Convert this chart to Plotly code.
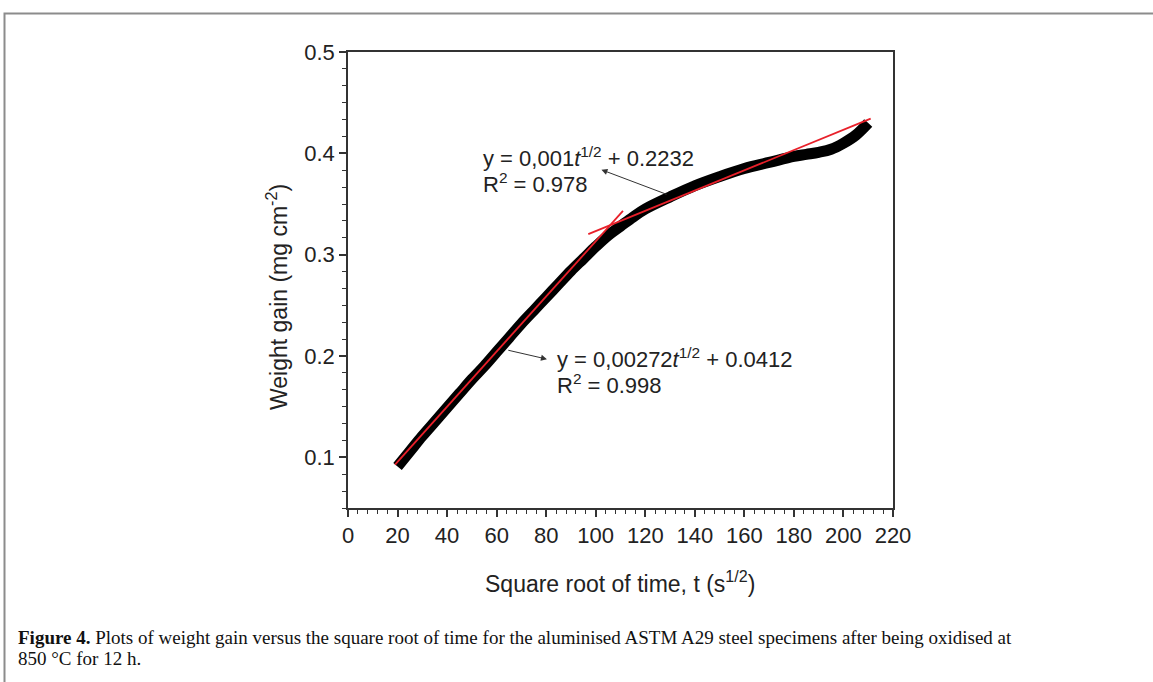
import plotly.graph_objects as go
import numpy as np

# ---- data ----
t_data = [20, 25, 30, 35, 40, 45, 50, 55, 60, 65, 70, 75, 80, 85, 90, 95, 100, 105,
          110, 115, 120, 130, 140, 150, 160, 170, 180, 185, 190, 195, 200, 205, 210]
w_data = [0.091, 0.106, 0.121, 0.135, 0.149, 0.163, 0.177, 0.190, 0.204, 0.218,
          0.232, 0.245, 0.258, 0.271, 0.284, 0.296, 0.308, 0.319, 0.328, 0.337,
          0.345, 0.357, 0.368, 0.377, 0.385, 0.391, 0.397, 0.399, 0.401, 0.404,
          0.410, 0.418, 0.430]

fit1_slope, fit1_icpt, fit1_range = 0.00272, 0.0412, [19, 111]
fit2_slope, fit2_icpt, fit2_range = 0.001, 0.2232, [97, 211]

x_ticks = [0, 20, 40, 60, 80, 100, 120, 140, 160, 180, 200, 220]
y_ticks = [0.1, 0.2, 0.3, 0.4, 0.5]

# plot area in pixels
L, R, T, B = 348, 893, 52, 508
W, H = 1153, 682
PW, PH = R - L, B - T


def px(xp):
    return (xp - L) / PW


def py(yp):
    return (B - yp) / PH


fig = go.Figure()
fig.add_trace(go.Scatter(x=t_data, y=w_data, mode="lines",
                         line=dict(color="black", width=11, shape="spline"),
                         hoverinfo="skip", showlegend=False))
for s, c, r in [(fit1_slope, fit1_icpt, fit1_range), (fit2_slope, fit2_icpt, fit2_range)]:
    xx = np.array(r, dtype=float)
    fig.add_trace(go.Scatter(x=xx, y=s * xx + c, mode="lines",
                             line=dict(color="#e8202a", width=1.8),
                             hoverinfo="skip", showlegend=False))

tickfont = dict(family="Liberation Sans, Arial", size=22, color="#222")
axis_common = dict(showline=True, linecolor="#333", linewidth=1.5, mirror=True,
                   ticks="outside", ticklen=7, tickwidth=1.5, tickcolor="#333",
                   showgrid=False, zeroline=False, tickfont=tickfont)

fig.update_xaxes(range=[0, 220], tickvals=x_ticks, ticktext=[str(v) for v in x_ticks],
                 minor=dict(dtick=4, tick0=0, ticklen=4, ticks="outside", tickcolor="#333", tickwidth=1.2),
                 **axis_common)
fig.update_yaxes(range=[0.05, 0.5], tickvals=y_ticks, ticktext=[f"{v:.1f}" for v in y_ticks],
                 minor=dict(dtick=1/60, tick0=0, ticklen=4, ticks="outside", tickcolor="#333", tickwidth=1.2),
                 **axis_common)

afont = dict(family="Liberation Sans, Arial", size=22, color="#222")
tfont = dict(family="Liberation Sans, Arial", size=23, color="#222")
ann = []
# equation labels
ann.append(dict(x=px(481), y=py(157), xref="paper", yref="paper", xanchor="left", yanchor="middle",
                text="y = 0,001<i>t</i><sup>1/2</sup> + 0.2232", showarrow=False, font=afont))
ann.append(dict(x=px(481), y=py(183), xref="paper", yref="paper", xanchor="left", yanchor="middle",
                text="R<sup>2</sup> = 0.978", showarrow=False, font=afont))
ann.append(dict(x=px(555), y=py(358), xref="paper", yref="paper", xanchor="left", yanchor="middle",
                text="y = 0,00272<i>t</i><sup>1/2</sup> + 0.0412", showarrow=False, font=afont))
ann.append(dict(x=px(555), y=py(384), xref="paper", yref="paper", xanchor="left", yanchor="middle",
                text="R<sup>2</sup> = 0.998", showarrow=False, font=afont))
# arrows (head at x,y ; tail at ax,ay)
ann.append(dict(x=102.3, y=0.3838, ax=129.2, ay=0.359, xref="x", yref="y", axref="x", ayref="y",
                text="", showarrow=True, arrowhead=2, arrowsize=1.2, arrowwidth=1, arrowcolor="#333"))
ann.append(dict(x=80.3, y=0.1969, ax=64.1, ay=0.206, xref="x", yref="y", axref="x", ayref="y",
                text="", showarrow=True, arrowhead=2, arrowsize=1.2, arrowwidth=1, arrowcolor="#333"))
# axis titles
ann.append(dict(x=px(620), y=py(582), xref="paper", yref="paper", xanchor="center", yanchor="middle",
                text="Square root of time, t (s<sup>1/2</sup>)", showarrow=False, font=tfont))
ann.append(dict(x=px(277), y=py(297), xref="paper", yref="paper", xanchor="center", yanchor="middle",
                text="Weight gain (mg cm<sup>-2</sup>)", textangle=-90, showarrow=False, font=tfont))
# caption
cfont = dict(family="Liberation Serif, Times New Roman", size=19, color="#111")
ann.append(dict(x=px(16), y=py(637), xref="paper", yref="paper", xanchor="left", yanchor="middle",
                text="<b>Figure 4.</b> Plots of weight gain versus the square root of time for the aluminised ASTM A29 steel specimens after being oxidised at",
                showarrow=False, font=cfont, align="left"))
ann.append(dict(x=px(16), y=py(658), xref="paper", yref="paper", xanchor="left", yanchor="middle",
                text="850 °C for 12 h.", showarrow=False, font=cfont, align="left"))

shapes = [dict(type="rect", xref="paper", yref="paper",
               x0=px(4.5), y0=py(700), x1=px(1170), y1=py(13.5),
               line=dict(color="#8c8c8c", width=2), layer="below")]

fig.update_layout(width=W, height=H, margin=dict(l=L, r=W - R, t=T, b=H - B),
                  paper_bgcolor="white", plot_bgcolor="white",
                  annotations=ann, shapes=shapes, showlegend=False)

fig.write_html("out.html")
